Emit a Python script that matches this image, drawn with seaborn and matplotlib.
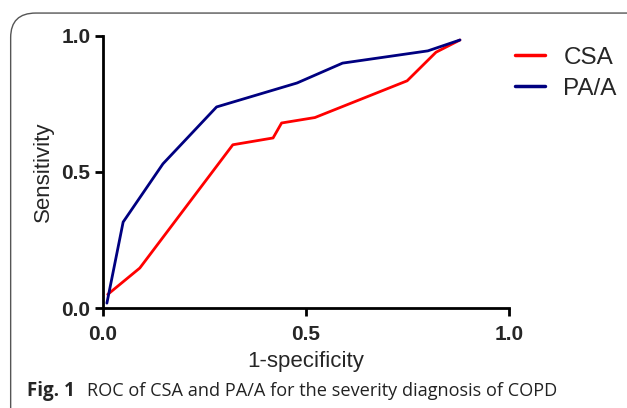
import pandas as pd
import matplotlib.pyplot as plt
import seaborn as sns
from matplotlib.patches import FancyBboxPatch

# ROC points
csa_x = [0.012, 0.091, 0.32, 0.419, 0.44, 0.522, 0.749, 0.82, 0.879]
csa_y = [0.05, 0.147, 0.60, 0.625, 0.68, 0.70, 0.835, 0.94, 0.985]
paa_x = [0.01, 0.05, 0.148, 0.28, 0.478, 0.59, 0.80, 0.879]
paa_y = [0.018, 0.316, 0.53, 0.739, 0.827, 0.90, 0.945, 0.985]

df = pd.concat([
    pd.DataFrame({"fpr": csa_x, "tpr": csa_y, "marker": "CSA"}),
    pd.DataFrame({"fpr": paa_x, "tpr": paa_y, "marker": "PA/A"}),
], ignore_index=True)

sns.set_style("ticks")
plt.rcParams['font.family'] = ['Liberation Sans', 'DejaVu Sans']

fig = plt.figure(figsize=(6.27, 4.08), dpi=100)
ax = fig.add_axes([0.164, 0.245, 0.648, 0.667])

# rounded frame of the figure panel (open at the bottom)
frame = FancyBboxPatch((0.017, -0.2), 1.1, 1.168, boxstyle="round,pad=0,rounding_size=0.04",
                       transform=fig.transFigure, fill=False, edgecolor="#555555",
                       linewidth=1.0, mutation_aspect=1.5, clip_on=False)
fig.patches.append(frame)

sns.lineplot(data=df, x="fpr", y="tpr", hue="marker", sort=False, estimator=None,
             palette={"CSA": "#FF0000", "PA/A": "#000080"}, linewidth=2.0, ax=ax)

ax.set_xlim(0, 1.0)
ax.set_ylim(0, 1.0)
ax.set_xticks([0.0, 0.5, 1.0])
ax.set_yticks([0.0, 0.5, 1.0])
ax.set_xticklabels(["0.0", "0.5", "1.0"], fontsize=15, fontweight="bold")
ax.set_yticklabels(["0.0", "0.5", "1.0"], fontsize=15, fontweight="bold")
ax.tick_params(length=6, width=2, color="black", pad=3)
ax.tick_params(axis="x", pad=6)
for s in ["left", "bottom"]:
    ax.spines[s].set_linewidth(2)
    ax.spines[s].set_color("black")
sns.despine(ax=ax)
ax.set_xlabel("1-specificity", fontsize=16, labelpad=5)
ax.set_ylabel("Sensitivity", fontsize=16, labelpad=5)

leg = ax.legend(loc="upper left", bbox_to_anchor=(0.99, 0.995), borderaxespad=0,
                frameon=False, fontsize=17.5, handlelength=1.25, handletextpad=0.75,
                labelspacing=0.35)
for line in leg.get_lines():
    line.set_linewidth(2.5)

fig.text(0.043, 0.03, "Fig. 1", fontsize=13.5, fontweight="bold",
         family=["Open Sans", "DejaVu Sans"])
fig.text(0.139, 0.03, "ROC of CSA and PA/A for the severity diagnosis of COPD",
         fontsize=13.1, color="#222222", family=["Open Sans", "DejaVu Sans"])

fig.savefig("out.png", dpi=100)
